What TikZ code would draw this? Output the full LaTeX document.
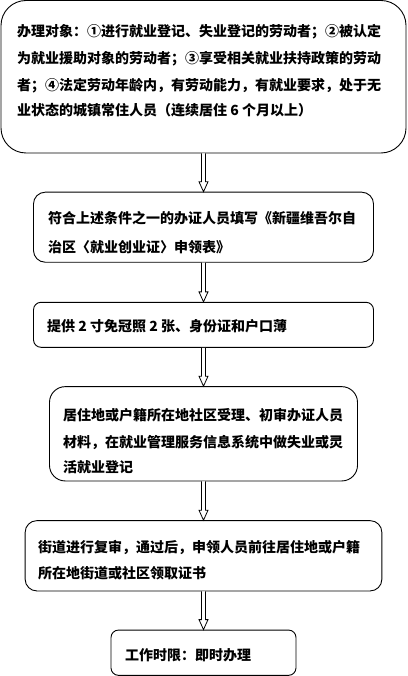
\documentclass[tikz,border=0pt]{standalone}
\usepackage{fontspec}
\setmainfont{Noto Sans CJK SC}
\usetikzlibrary{calc}
\newcommand\darrow[2]{\draw[arrowline] ($(#1.south)+(-2,0)$) -- ($(#2.north)+(-2,-10)$) -- ($(#2.north)+(-4.5,-10)$) -- (#2.north) -- ($(#2.north)+(4.5,-10)$) -- ($(#2.north)+(2,-10)$) -- ($(#1.south)+(2,0)$);}
\tikzset{
  box/.style={draw=black, line width=0.9pt, inner sep=0pt, fill=white},
  txt/.style={anchor=base west, inner sep=0pt, font=\fontsize{14pt}{17pt}\selectfont\bfseries},
  arrowline/.style={draw=black, line width=0.8pt, fill=white, line join=miter},
}
\begin{document}
\begin{tikzpicture}[x=1pt,y=-1pt]
\useasboundingbox (0,0) rectangle (407,676);
\node[box, rounded corners=25pt, minimum width=405pt, minimum height=152.5pt] (b1) at (203.5,76.75) {};
\node[box, rounded corners=11.7pt, minimum width=340pt, minimum height=70pt] (b2) at (203.5,227.2) {};
\node[box, rounded corners=7.5pt, minimum width=340pt, minimum height=45pt] (b3) at (203.5,324.8) {};
\node[box, rounded corners=15.7pt, minimum width=308pt, minimum height=94.3pt] (b4) at (203.5,433.8) {};
\node[box, rounded corners=11.7pt, minimum width=356.7pt, minimum height=70.3pt] (b5) at (203.5,555.8) {};
\node[box, rounded corners=7.5pt, minimum width=185pt, minimum height=45.3pt] (b6) at (203.5,652.7) {};

\node[txt] (t1a) at (17,37) {办理对象：①进行就业登记、失业登记的劳动者；②被认定};
\node[txt] (t1b) at (17,63.6) {为就业援助对象的劳动者；③享受相关就业扶持政策的劳动};
\node[txt] (t1c) at (17,90.3) {者；④法定劳动年龄内，有劳动能力，有就业要求，处于无};
\node[txt] (t1d) at (17,115.3) {业状态的城镇常住人员（连续居住 6 个月以上）};

\node[txt] (t2a) at (48,223.6) {符合上述条件之一的办证人员填写《新疆维吾尔自};
\node[txt] (t2b) at (48,252) {治区〈就业创业证〉申领表》};

\node[txt] (t3a) at (47,331) {提供 2 寸免冠照 2 张、身份证和户口薄};

\node[txt] (t4a) at (63,420.3) {居住地或户籍所在地社区受理、初审办证人员};
\node[txt] (t4b) at (63,447) {材料，在就业管理服务信息系统中做失业或灵};
\node[txt] (t4c) at (63,472) {活就业登记};

\node[txt] (t5a) at (38,552) {街道进行复审，通过后，申领人员前往居住地或户籍};
\node[txt] (t5b) at (38,578.6) {所在地街道或社区领取证书};

\node[txt] (t6a) at (125,660.3) {工作时限：即时办理};

\darrow{b1}{b2}
\darrow{b2}{b3}
\darrow{b3}{b4}
\darrow{b4}{b5}
\darrow{b5}{b6}
\end{tikzpicture}
\end{document}
